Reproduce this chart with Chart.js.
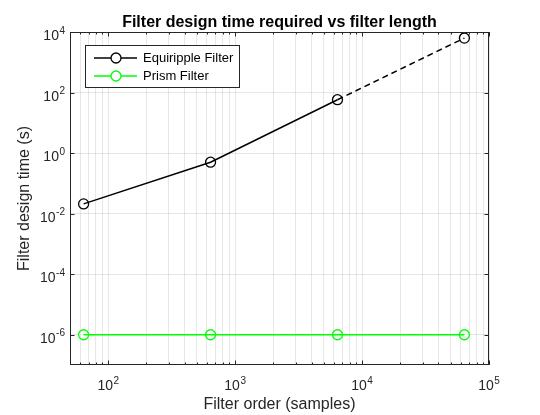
<!DOCTYPE html>
<html>
<head>
<meta charset="utf-8">
<script src="https://cdn.jsdelivr.net/npm/chart.js@4.4.1/dist/chart.umd.min.js"></script>
<style>
html,body{margin:0;padding:0;background:#fff;}
canvas{display:block;}
</style>
</head>
<body>
<canvas id="c" width="540" height="415"></canvas>
<script>
// ---- data ----
const filterOrders = [64, 640, 6400, 64000];
const equirippleTimes = [0.021, 0.5, 58, 6300];
const prismTimes = [1e-6, 1e-6, 1e-6, 1e-6];
const seriesNames = ['Equiripple Filter', 'Prism Filter'];
const xMajorTicks = [1e2, 1e3, 1e4, 1e5];
const yMajorTicks = [1e-6, 1e-4, 1e-2, 1e0, 1e2, 1e4];
const titleText = 'Filter design time required vs filter length';
const xTitle = 'Filter order (samples)';
const yTitle = 'Filter design time (s)';

const X_MIN = 50, X_MAX = 1e5, Y_MIN = 1e-7, Y_MAX = 1e4;
const FONT = "'Liberation Sans', Arial, Helvetica, sans-serif";
const AX = '#262626';
const GRID = 'rgba(38,38,38,0.11)';
const GREEN = '#00ff00';

// minor x grid / tick positions (2..9 x 10^n) within range
const xMinorTicks = [];
for (let e = 1; e <= 4; e++) {
  for (let m = 2; m <= 9; m++) {
    const v = m * Math.pow(10, e);
    if (v > X_MIN && v < X_MAX) xMinorTicks.push(v);
  }
}
const xGridTicks = xMinorTicks.concat(xMajorTicks).sort((a, b) => a - b);

const toPts = (xs, ys) => xs.map((x, i) => ({x: x, y: ys[i]}));

function drawPow(ctx, exp, x, y, align) {
  const mainFont = '14px ' + FONT, supFont = '10px ' + FONT;
  ctx.font = mainFont;
  const w1 = ctx.measureText('10').width;
  ctx.font = supFont;
  const es = String(exp);
  const w2 = ctx.measureText(es).width;
  const total = w1 + w2 + 0.5;
  const sx = align === 'center' ? x - total / 2 : x - total;
  ctx.fillStyle = AX;
  ctx.textAlign = 'left';
  ctx.textBaseline = 'alphabetic';
  ctx.font = mainFont;
  ctx.fillText('10', sx, y);
  ctx.font = supFont;
  ctx.fillText(es, sx + w1 + 0.5, y - 6.5);
}

const decor = {
  id: 'decor',
  afterDatasetsDraw(chart) {
    const ctx = chart.ctx;
    const a = chart.chartArea;
    const xs = chart.scales.x, ys = chart.scales.y;
    ctx.save();
    // frame
    ctx.strokeStyle = AX;
    ctx.lineWidth = 1;
    ctx.strokeRect(Math.round(a.left) + 0.5, Math.round(a.top) + 0.5,
                   Math.round(a.right - a.left) - 1, Math.round(a.bottom - a.top) - 1);
    // x ticks (bottom & top, inward)
    ctx.beginPath();
    xGridTicks.forEach(v => {
      const px = Math.round(xs.getPixelForValue(v)) + 0.5;
      const len = xMajorTicks.includes(v) ? 4.5 : 2.5;
      ctx.moveTo(px, a.bottom); ctx.lineTo(px, a.bottom - len);
      ctx.moveTo(px, a.top); ctx.lineTo(px, a.top + len);
    });
    // y ticks (left & right, inward)
    yMajorTicks.forEach(v => {
      const py = Math.round(ys.getPixelForValue(v)) + 0.5;
      ctx.moveTo(a.left, py); ctx.lineTo(a.left + 4.5, py);
      ctx.moveTo(a.right, py); ctx.lineTo(a.right - 4.5, py);
    });
    ctx.stroke();
    // x tick labels
    xMajorTicks.forEach(v => {
      drawPow(ctx, Math.round(Math.log10(v)), xs.getPixelForValue(v), a.bottom + 25, 'center');
    });
    // y tick labels
    yMajorTicks.forEach(v => {
      drawPow(ctx, Math.round(Math.log10(v)), a.left - 5, ys.getPixelForValue(v) + 8, 'right');
    });
    // title
    ctx.fillStyle = '#000';
    ctx.font = 'bold 16px ' + FONT;
    ctx.textAlign = 'center';
    ctx.textBaseline = 'alphabetic';
    ctx.fillText(titleText, (a.left + a.right) / 2, 27);
    // axis titles
    ctx.fillStyle = AX;
    ctx.font = '16px ' + FONT;
    ctx.textBaseline = 'middle';
    ctx.fillText(xTitle, (a.left + a.right) / 2, 405);
    ctx.save();
    ctx.translate(25, (a.top + a.bottom) / 2);
    ctx.rotate(-Math.PI / 2);
    ctx.fillText(yTitle, 0, 0);
    ctx.restore();
    // legend
    const lx = 85.5, ly = 45.5, lw = 154, lh = 42;
    ctx.fillStyle = '#fff';
    ctx.fillRect(lx, ly, lw, lh);
    ctx.strokeStyle = AX;
    ctx.lineWidth = 1;
    ctx.strokeRect(lx, ly, lw, lh);
    const rows = [{y: 58, c: '#000'}, {y: 76, c: GREEN}];
    rows.forEach((r, i) => {
      ctx.strokeStyle = r.c;
      ctx.lineWidth = 1.5;
      ctx.beginPath();
      ctx.moveTo(94, r.y); ctx.lineTo(137, r.y);
      ctx.stroke();
      ctx.beginPath();
      ctx.arc(116, r.y, 5, 0, Math.PI * 2);
      ctx.fillStyle = '#fff';
      ctx.fill();
      ctx.lineWidth = 1.3;
      ctx.stroke();
      ctx.fillStyle = '#000';
      ctx.font = '13px ' + FONT;
      ctx.textAlign = 'left';
      ctx.textBaseline = 'middle';
      ctx.fillText(seriesNames[i], 143, r.y + 0.5);
    });
    ctx.restore();
  }
};

new Chart(document.getElementById('c'), {
  type: 'line',
  data: {
    datasets: [
      {
        label: seriesNames[0],
        data: toPts(filterOrders, equirippleTimes),
        borderColor: '#000',
        borderWidth: 1.5,
        pointStyle: 'circle',
        pointRadius: 5,
        pointBorderWidth: 1.3,
        pointBorderColor: '#000',
        pointBackgroundColor: 'rgba(0,0,0,0)',
        fill: false,
        tension: 0,
        segment: {
          borderDash: c => (c.p0DataIndex === 2 ? [6, 4] : undefined)
        }
      },
      {
        label: seriesNames[1],
        data: toPts(filterOrders, prismTimes),
        borderColor: GREEN,
        borderWidth: 1.5,
        pointStyle: 'circle',
        pointRadius: 5,
        pointBorderWidth: 1.3,
        pointBorderColor: GREEN,
        pointBackgroundColor: 'rgba(0,0,0,0)',
        fill: false,
        tension: 0
      }
    ]
  },
  options: {
    responsive: false,
    animation: false,
    layout: {padding: {top: 32, right: 51, left: 0, bottom: 0}},
    plugins: {legend: {display: false}, tooltip: {enabled: false}, title: {display: false}},
    scales: {
      x: {
        type: 'logarithmic',
        min: X_MIN, max: X_MAX,
        ticks: {display: false},
        grid: {color: GRID, drawTicks: false, lineWidth: 1},
        border: {display: false},
        afterBuildTicks: s => { s.ticks = xGridTicks.map(v => ({value: v})); },
        afterFit: s => { s.height = 50; }
      },
      y: {
        type: 'logarithmic',
        min: Y_MIN, max: Y_MAX,
        ticks: {display: false},
        grid: {color: GRID, drawTicks: false, lineWidth: 1},
        border: {display: false},
        afterBuildTicks: s => { s.ticks = yMajorTicks.map(v => ({value: v})); },
        afterFit: s => { s.width = 70; }
      }
    }
  },
  plugins: [decor]
});
</script>
</body>
</html>
